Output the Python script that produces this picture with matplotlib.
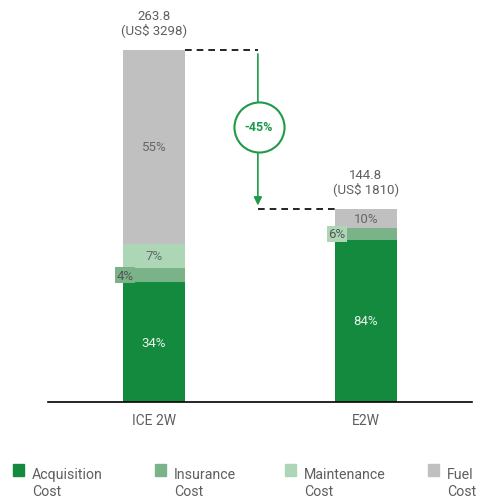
import matplotlib
matplotlib.use("Agg")
import matplotlib.pyplot as plt

plt.rcParams["font.family"] = ["Roboto", "DejaVu Sans"]

# data
vehicles = ["ICE 2W", "E2W"]
totals = [263.8, 144.8]
totals_usd = [3298, 1810]
components = ["Acquisition\nCost", "Insurance\nCost", "Maintenance\nCost", "Fuel\nCost"]
shares = {
    "ICE 2W": [34, 4, 7, 55],
    "E2W": [84, 6, 0, 10],
}
reduction = "-45%"

colors = ["#138a3e", "#7bb389", "#acd6b6", "#c0c0c0"]
text_gray = "#5f5f5f"
green = "#1e9a48"

fig = plt.figure(figsize=(4.8, 5.02), dpi=100)
ax = fig.add_axes([48 / 480, (502 - 403) / 502, 424 / 480, 403 / 502])
ax.set_xlim(-0.5, 1.5)
ax.set_ylim(0, 403 * 263.8 / 352)

width = 0.29
xs = [0, 1]
for x, veh, tot, usd in zip(xs, vehicles, totals, totals_usd):
    bottom = 0
    for i, pct in enumerate(shares[veh]):
        h = tot * pct / 100
        if h > 0:
            ax.bar(x, h, width, bottom=bottom, color=colors[i], edgecolor="none", zorder=2)
            yc = bottom + h / 2
            lab = f"{pct}%"
            if i == 0:
                ax.text(x, yc, lab, ha="center", va="center", color="#e8f3ec", fontsize=9.5, zorder=4)
            elif pct <= 6:
                boxc = colors[1] if veh == "ICE 2W" else colors[2]
                ax.text(x - width / 2 + 0.008, yc, lab, ha="center", va="center",
                        color="#555555", fontsize=9.5, zorder=5,
                        bbox=dict(boxstyle="square,pad=0.12", fc=boxc, ec="none"))
            else:
                ax.text(x, yc, lab, ha="center", va="center", color="#666666", fontsize=9.5, zorder=4)
        bottom += h
    ax.annotate(f"{tot}\n(US$ {usd})", (x, tot), xytext=(0, 10), textcoords="offset points",
                ha="center", va="bottom", color=text_gray, fontsize=9.5, linespacing=1.0)

# reduction connector
xa = 0.49
ax.plot([width / 2, xa], [totals[0], totals[0]], color="black", ls=(0, (4, 3)), lw=1.2, zorder=3)
ax.plot([xa, 1 - width / 2], [totals[1], totals[1]], color="black", ls=(0, (4, 3)), lw=1.2, zorder=3)
ax.annotate("", xy=(xa, totals[1] + 2.5), xytext=(xa, totals[0] - 3),
            arrowprops=dict(arrowstyle="-|>", color=green, lw=1.2, mutation_scale=12, shrinkA=0, shrinkB=0),
            zorder=3)
yc_circ = (403 - 128) * 263.8 / 352
ax.scatter([xa + 0.005], [yc_circ], s=1300, facecolor="white", edgecolor=green, linewidth=1.5, zorder=4)
ax.text(xa + 0.005, yc_circ, reduction, ha="center", va="center", color=green,
        fontsize=9, fontweight="bold", zorder=5)

for s in ["top", "right", "left"]:
    ax.spines[s].set_visible(False)
ax.spines["bottom"].set_linewidth(1.2)
ax.set_yticks([])
ax.set_xticks(xs)
ax.set_xticklabels(vehicles, color=text_gray, fontsize=10)
ax.tick_params(axis="x", length=0, pad=8)

# legend
sq_x = [13, 155, 285, 428]
for px, lab, c in zip(sq_x, components, colors):
    fig.patches.append(plt.Rectangle((px / 480, 1 - 477 / 502), 11 / 480, 12 / 502,
                                     transform=fig.transFigure, color=c))
    fig.text((px + 19) / 480, 1 - 468 / 502, lab, ha="left", va="top", color=text_gray,
             fontsize=10.2, linespacing=1.3)

fig.savefig("out.png", dpi=100)
